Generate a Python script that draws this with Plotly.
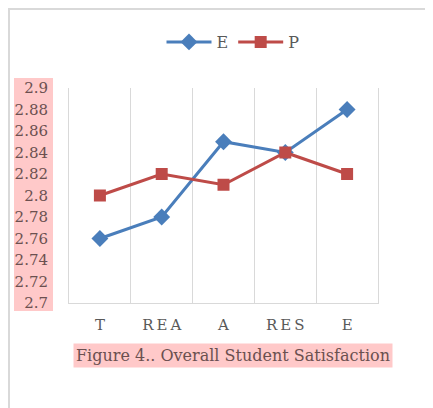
import plotly.graph_objects as go

categories = ["T", "R\u2009E\u2009A", "A", "R\u2009E\u2009S", "E"]
series_e = [2.76, 2.78, 2.85, 2.84, 2.88]
series_p = [2.80, 2.82, 2.81, 2.84, 2.82]
tick_vals = [2.7, 2.72, 2.74, 2.76, 2.78, 2.8, 2.82, 2.84, 2.86, 2.88, 2.9]
tick_text = ["2.7", "2.72", "2.74", "2.76", "2.78", "2.8", "2.82", "2.84", "2.86", "2.88", "2.9"]

BLUE = "#4A7EBB"
RED = "#BE4B48"
FONT = "DejaVu Serif"

fig = go.Figure()
fig.add_trace(go.Scatter(x=categories, y=series_e, name="E", mode="lines+markers",
                         line=dict(color=BLUE, width=3),
                         marker=dict(symbol="diamond", size=13, color=BLUE)))
fig.add_trace(go.Scatter(x=categories, y=series_p, name="P", mode="lines+markers",
                         line=dict(color=RED, width=3),
                         marker=dict(symbol="square", size=12, color=RED)))

OFF = 8  # page body margin
W, H = 425, 400
# screen-space plot box: x 69..378, y 88..303
L, T = 69 - OFF, 88 - OFF
R, B = W - (378 - OFF), H - (303 - OFF)
pw, ph = W - L - R, H - T - B

def px(x):
    return (x - OFF - L) / pw

def py(y):
    return (H - B - (y - OFF)) / ph

fig.update_layout(
    width=W, height=H,
    margin=dict(l=L, r=R, t=T, b=B, autoexpand=False),
    paper_bgcolor="white", plot_bgcolor="white",
    font=dict(family=FONT, color="#595959"),
    showlegend=True,
    legend=dict(orientation="h", xref="container", yref="container",
                x=(233 - OFF) / W, y=1 - (42 - OFF) / H, xanchor="center", yanchor="middle",
                font=dict(size=16, color="#595959"), itemwidth=45, bgcolor="rgba(0,0,0,0)"),
    xaxis=dict(type="category", range=[-0.5, 4.5], showgrid=True, gridcolor="#d9d9d9",
               gridwidth=1, tickson="boundaries", ticks="", showline=True,
               linecolor="#d9d9d9", linewidth=1, zeroline=False, automargin=False,
               tickfont=dict(size=15, color="#595959", family=FONT), ticklabelstandoff=8),
    yaxis=dict(range=[2.7, 2.9], tickvals=tick_vals, ticktext=tick_text, showgrid=False,
               zeroline=False, showline=True, mirror=True, linecolor="#d9d9d9", linewidth=1,
               ticks="", automargin=False,
               tickfont=dict(size=15, color="#6b5050", family=FONT), ticklabelstandoff=17),
    shapes=[
        dict(type="rect", xref="paper", yref="paper", x0=px(14), x1=px(53), y0=py(311), y1=py(78),
             fillcolor="#ffc9c9", line=dict(width=0), layer="below"),
        dict(type="path", xref="paper", yref="paper",
             path=f"M {px(9)} {py(420)} L {px(9)} {py(9)} L {px(440)} {py(9)}",
             line=dict(color="#d9d9d9", width=2)),
    ],
    annotations=[
        dict(text="Figure 4.. Overall Student Satisfaction", xref="paper", yref="paper",
             x=px(233), y=py(355), xanchor="center", yanchor="middle", showarrow=False,
             font=dict(size=16, color="#6b5050", family=FONT), bgcolor="#ffc9c9", borderpad=2),
    ],
)

fig.write_html("out.html")
